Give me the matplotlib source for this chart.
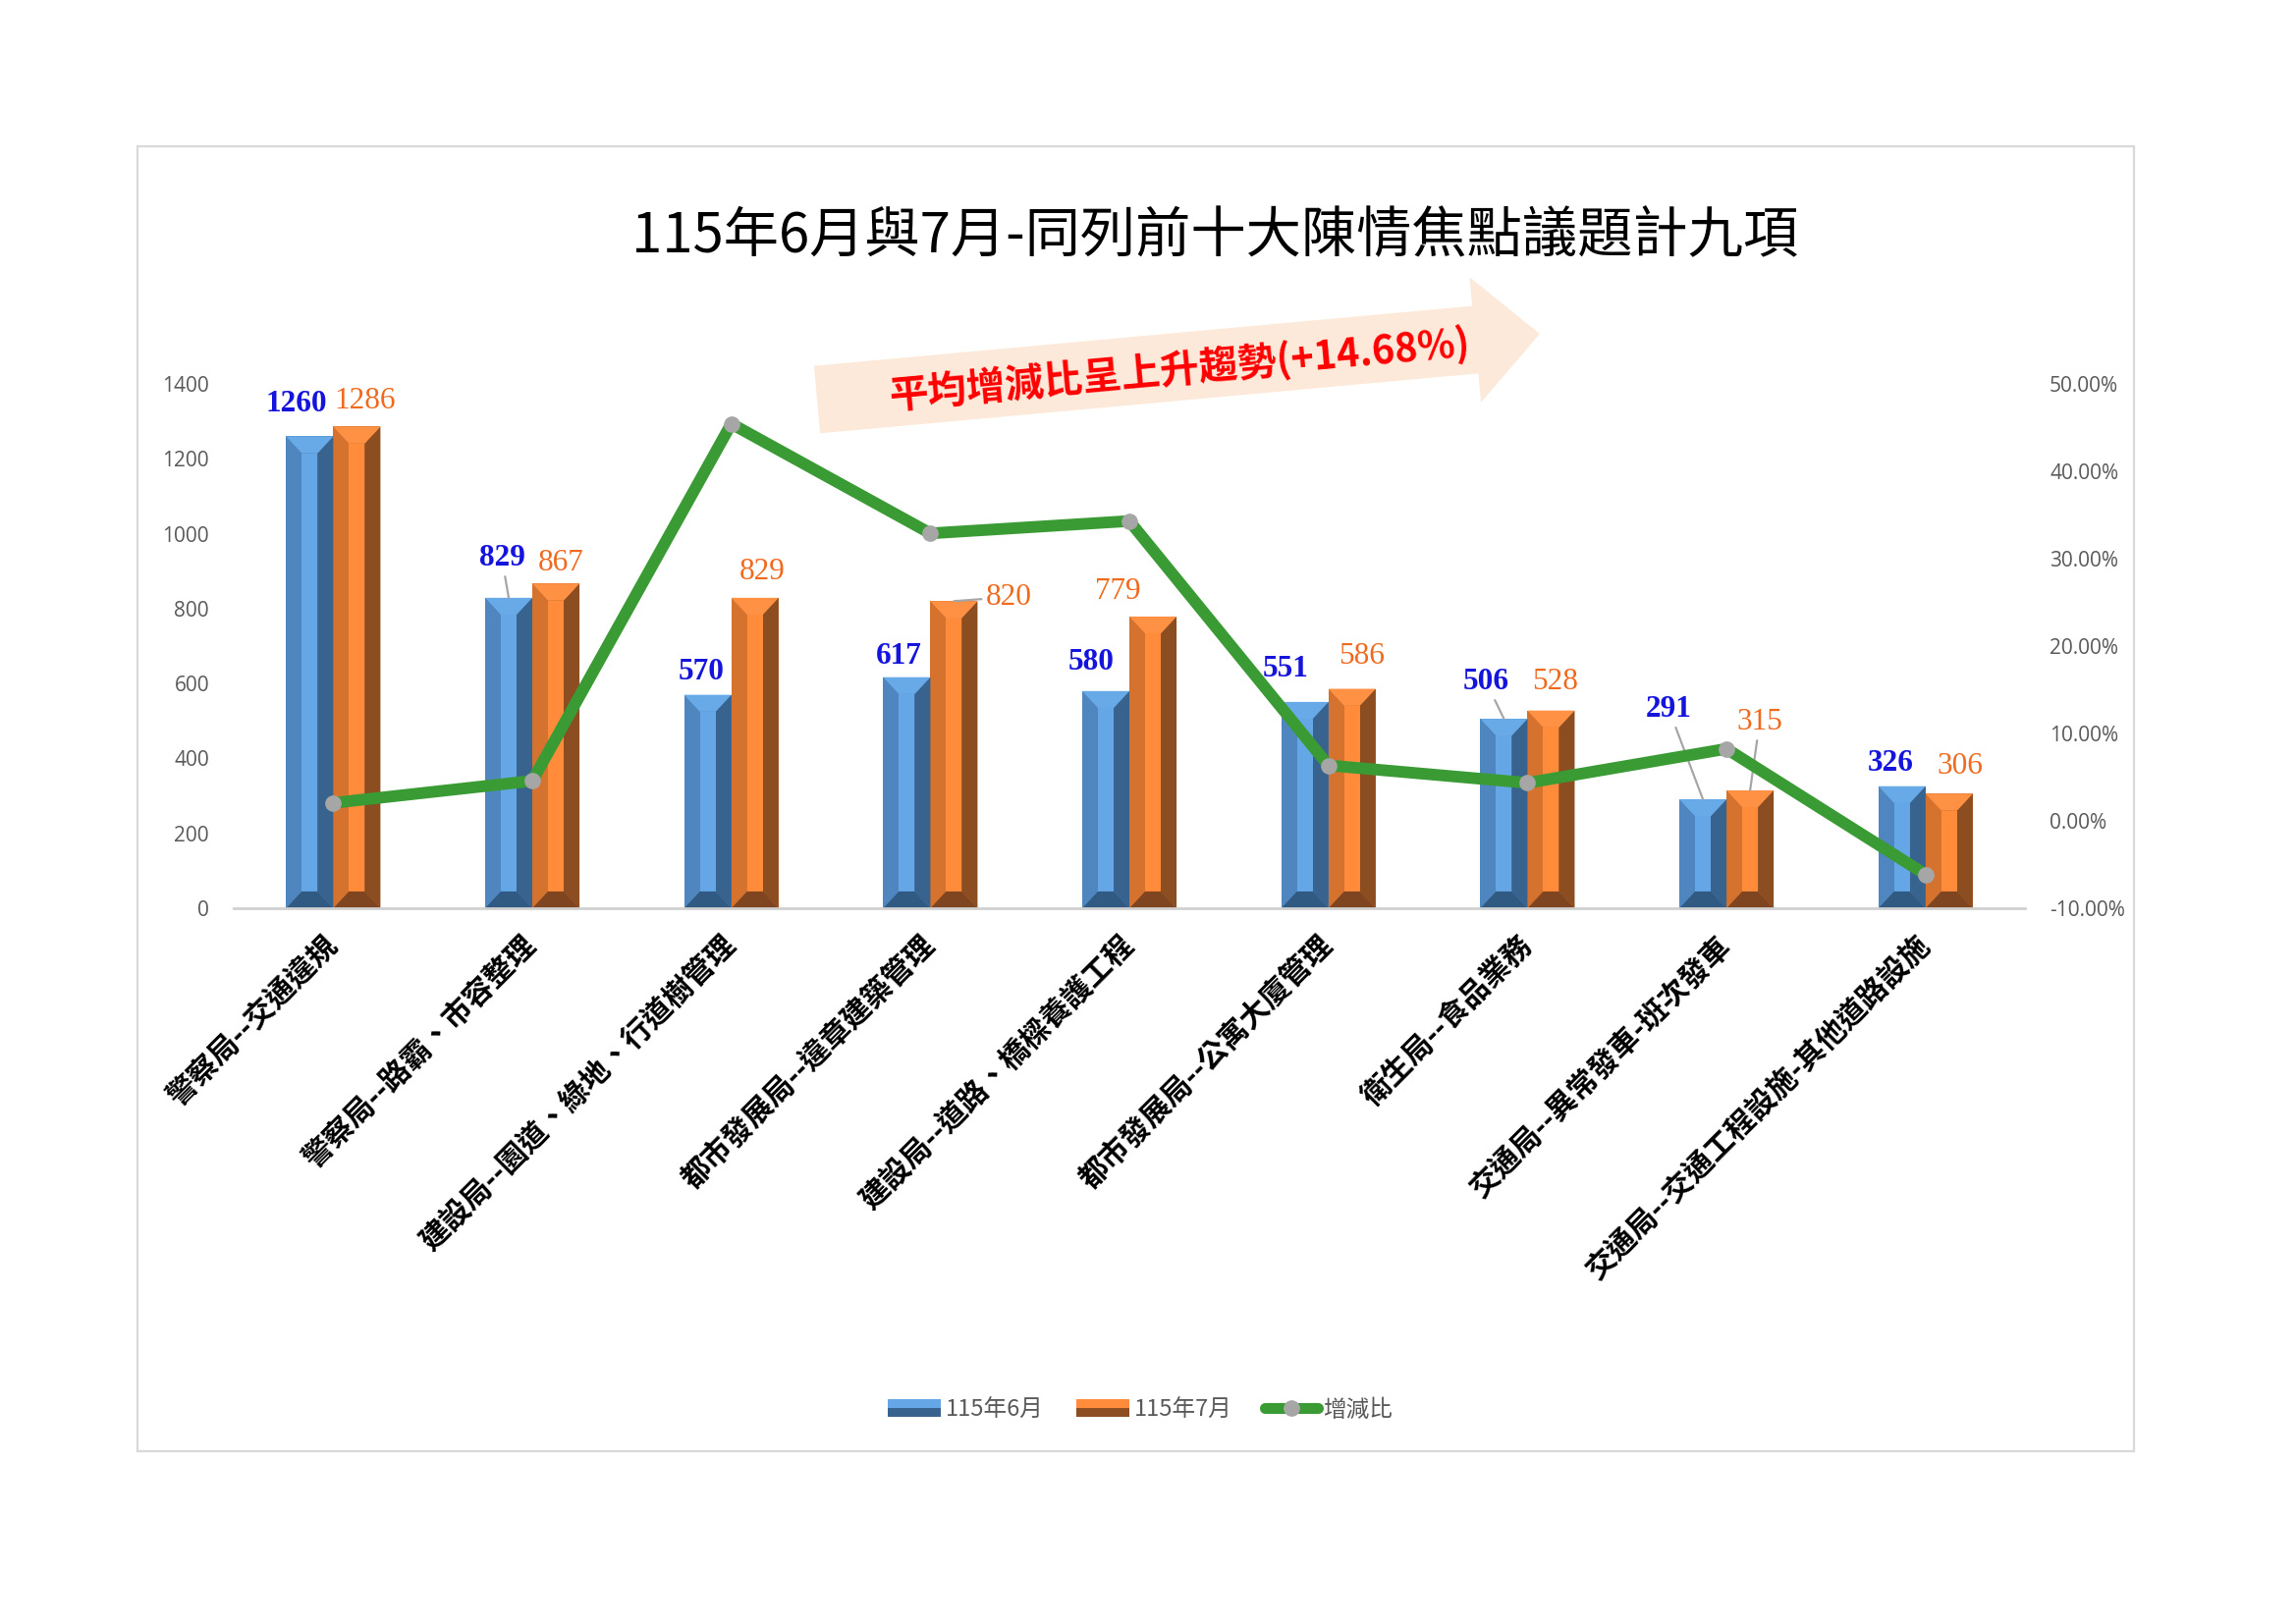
import numpy as np
import matplotlib
matplotlib.use("Agg")
import matplotlib.pyplot as plt
from matplotlib.patches import Polygon, Rectangle, FancyArrow
from matplotlib.lines import Line2D
from matplotlib.legend_handler import HandlerBase
from matplotlib.ticker import FuncFormatter

plt.rcParams['font.family'] = ['Noto Sans CJK TC', 'DejaVu Sans']

TITLE = "115年6月與7月-同列前十大陳情焦點議題計九項"
TREND_TEXT = "平均增減比呈上升趨勢(+14.68%)"

categories = [
    "警察局--交通違規",
    "警察局--路霸、市容整理",
    "建設局--園道、綠地、行道樹管理",
    "都市發展局--違章建築管理",
    "建設局--道路、橋樑養護工程",
    "都市發展局--公寓大廈管理",
    "衛生局--食品業務",
    "交通局--異常發車-班次發車",
    "交通局--交通工程設施-其他道路設施",
]
jun = [1260, 829, 570, 617, 580, 551, 506, 291, 326]
jul = [1286, 867, 829, 820, 779, 586, 528, 315, 306]
ratio = [2.06, 4.58, 45.44, 32.90, 34.31, 6.35, 4.35, 8.25, -6.13]  # 增減比 (%)
series_names = ["115年6月", "115年7月", "增減比"]

# label offsets in points (text centre relative to bar top)
jun_off = [(-10, 24), (-5, 29), (-5, 17), (-6, 15), (-11, 21), (-14, 24), (-13, 27), (-25, 66), (-8, 17)]
jul_off = [(6, 19), (4, 15), (5, 19), (40, 3), (-26, 18), (7, 24), (3, 21), (7, 50), (8, 20)]
jun_leader = [1, 6, 7]
jul_leader = [3, 7]

BLUE = dict(left="#4F86BF", mid="#64A6E6", right="#38638F", top="#68AAE8", bot="#315A82")
ORANGE = dict(left="#D5722E", mid="#FF8B3B", right="#8C4D21", top="#FF9145", bot="#7E4520")
GREEN = "#3A9B35"
GREY_TXT = "#595959"

W, H = 2338, 1654
fig = plt.figure(figsize=(W / 100, H / 100), dpi=100)

# background layer in pixel coords: frame + trend arrow
bg = fig.add_axes([0, 0, 1, 1])
bg.set_xlim(0, W)
bg.set_ylim(H, 0)
bg.axis("off")
bg.add_patch(Rectangle((140, 149), 2033, 1329, fill=False, ec="#D9D9D9", lw=1.6))
bg.add_patch(FancyArrow(832, 407, 736, -67, width=69, head_width=128, head_length=66,
                        length_includes_head=True, fc="#FDE9D9", ec="none"))
bg.text(1201, 377, TREND_TEXT, color="#FF0000", fontsize=28.5, fontweight="bold",
        rotation=5.2, ha="center", va="center", rotation_mode="anchor")

fig.text(0.529, 0.854, TITLE, ha="center", va="center", fontsize=40.5, color="black")

ax = fig.add_axes([0.1018, 0.4407, 0.7802, 0.3229])
ax.patch.set_alpha(0)
x = np.arange(len(categories))
w = 0.237
bevel = 45  # data units


def bevel_bars(xs, vals, c):
    bars = ax.bar(xs, vals, w, color=c["left"], linewidth=0, zorder=2)
    for b in bars:
        x0 = b.get_x()
        x1 = x0 + b.get_width()
        h = b.get_height()
        s = b.get_width() / 3
        ax.add_patch(Polygon([(x1, 0), (x1, h), (x1 - s, h - bevel), (x1 - s, bevel)],
                             closed=True, fc=c["right"], ec="none", zorder=2.1))
        ax.add_patch(Rectangle((x0 + s, bevel), s, h - 2 * bevel, fc=c["mid"], ec="none", zorder=2.1))
        ax.add_patch(Polygon([(x0, h), (x1, h), (x1 - s, h - bevel), (x0 + s, h - bevel)],
                             closed=True, fc=c["top"], ec="none", zorder=2.2))
        ax.add_patch(Polygon([(x0, 0), (x1, 0), (x1 - s, bevel), (x0 + s, bevel)],
                             closed=True, fc=c["bot"], ec="none", zorder=2.2))
    return bars


bevel_bars(x - w / 2, jun, BLUE)
bevel_bars(x + w / 2, jul, ORANGE)

ax.set_xlim(-0.5, len(categories) - 0.5)
ax.set_ylim(0, 1400)
ax.set_yticks(range(0, 1401, 200))
for sp in ["top", "left", "right"]:
    ax.spines[sp].set_visible(False)
ax.spines["bottom"].set_color("#D0D0D0")
ax.spines["bottom"].set_linewidth(2)
ax.tick_params(axis="y", length=0, pad=18, labelsize=15, labelcolor=GREY_TXT)
for t in ax.get_yticklabels():
    t.set_fontfamily("Open Sans")
ax.set_xticks(x)
ax.set_xticklabels(categories, rotation=45, ha="right", va="center",
                   rotation_mode="anchor", fontsize=21.5, fontweight="bold")
ax.tick_params(axis="x", length=0, pad=24)

# data labels
for i in range(len(categories)):
    ap = dict(arrowstyle="-", color="#A6A6A6", lw=1.6, shrinkA=1, shrinkB=0) if i in jun_leader else None
    ax.annotate(str(jun[i]), xy=(x[i] - w / 2, jun[i]), xytext=jun_off[i], textcoords="offset points",
                ha="center", va="center", fontsize=22.5, fontweight="bold", color="#1414DC",
                family="Liberation Serif", arrowprops=ap, zorder=5)
    ap = dict(arrowstyle="-", color="#A6A6A6", lw=1.6, shrinkA=1, shrinkB=0) if i in jul_leader else None
    ax.annotate(str(jul[i]), xy=(x[i] + w / 2, jul[i]), xytext=jul_off[i], textcoords="offset points",
                ha="center", va="center", fontsize=22.5, color="#F06A1E",
                family="Liberation Serif", arrowprops=ap, zorder=5)

ax2 = ax.twinx()
ax2.set_ylim(-10, 50)
ax2.set_yticks(range(-10, 51, 10))
ax2.yaxis.set_major_formatter(FuncFormatter(lambda v, p: f"{v:.2f}%"))
for sp in ax2.spines.values():
    sp.set_visible(False)
ax2.tick_params(axis="y", length=0, pad=18, labelsize=15, labelcolor=GREY_TXT)
for t in ax2.get_yticklabels():
    t.set_fontfamily("Open Sans")
ax2.plot(x, ratio, color=GREEN, lw=8.6, marker="o", markersize=11,
         markerfacecolor="#A6A6A6", markeredgecolor="#A6A6A6", solid_capstyle="round", zorder=3)


class BevelHandler(HandlerBase):
    def __init__(self, light, dark):
        super().__init__()
        self.light = light
        self.dark = dark

    def create_artists(self, legend, orig_handle, xd, yd, width, height, fontsize, trans):
        bot = Rectangle((-xd, -yd), width, height / 2, fc=self.dark, ec="none", transform=trans)
        top = Rectangle((-xd, -yd + height / 2), width, height / 2, fc=self.light, ec="none", transform=trans)
        return [bot, top]


h_jun = Rectangle((0, 0), 1, 1)
h_jul = Rectangle((0, 0), 1, 1)
h_ratio = Line2D([], [], color=GREEN, lw=8, marker="o", markersize=11,
                 markerfacecolor="#A6A6A6", markeredgecolor="#A6A6A6", solid_capstyle="round")
leg = fig.legend([h_jun, h_jul, h_ratio], series_names, loc="center", bbox_to_anchor=(0.4965, 0.1318),
                 ncol=3, frameon=False, fontsize=17, handlelength=2.3, handleheight=0.8,
                 handletextpad=0.2, columnspacing=1.4,
                 handler_map={h_jun: BevelHandler(BLUE["mid"], BLUE["right"]),
                              h_jul: BevelHandler(ORANGE["mid"], ORANGE["right"])})
for t in leg.get_texts():
    t.set_color(GREY_TXT)

fig.savefig("out.png", dpi=100, facecolor="white")
